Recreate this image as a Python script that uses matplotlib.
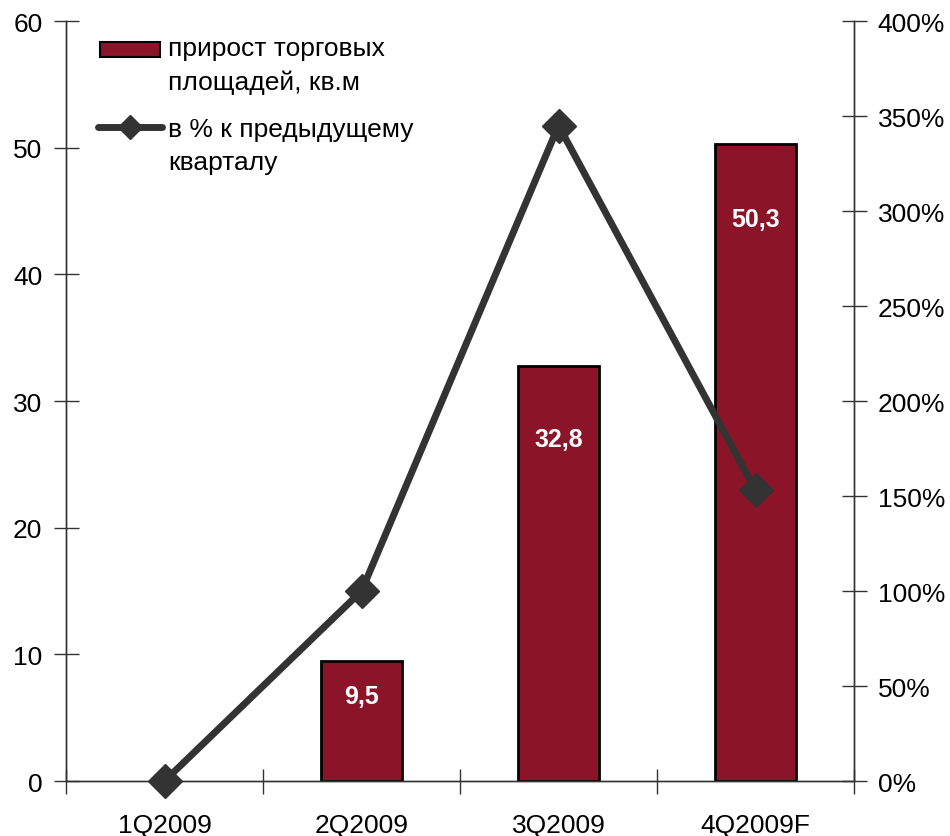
import matplotlib.pyplot as plt
from matplotlib.lines import Line2D
from matplotlib.patches import Rectangle

plt.rcParams['font.family'] = ['Liberation Sans', 'DejaVu Sans']

quarters = ['1Q2009', '2Q2009', '3Q2009', '4Q2009F']
area_growth = [0, 9.5, 32.8, 50.3]          # прирост торговых площадей, кв.м
pct_prev = [0, 100, 345, 153]               # в % к предыдущему кварталу
bar_labels = ['', '9,5', '32,8', '50,3']
label_drop = [0, 2.8, 5.8, 5.9]             # how far below the bar top the label sits

bar_color = '#8b1428'
line_color = '#333333'
axis_color = '#333333'
fs = 19

fig = plt.figure(figsize=(9.5, 8.37), dpi=100)
ax = fig.add_axes([0.0695, 0.0657, 0.8295, 0.908])
ax2 = ax.twinx()

x = list(range(len(quarters)))
for xi, v in zip(x, area_growth):
    if v > 0:
        ax.bar(xi, v, width=0.41, color=bar_color, edgecolor='black', linewidth=2, zorder=2)
for xi, v, lab, d in zip(x, area_growth, bar_labels, label_drop):
    if lab:
        ax.text(xi, v - d, lab, ha='center', va='center', color='white',
                fontsize=18, fontweight='bold', zorder=3)

ax2.plot(x, pct_prev, color=line_color, lw=5, marker='D', markersize=17,
         markerfacecolor=line_color, markeredgecolor=line_color, zorder=4, clip_on=False)

ax.set_xlim(-0.5, 3.5)
ax.set_ylim(0, 60)
ax2.set_ylim(0, 400)
ax.set_yticks(range(0, 61, 10))
ax2.set_yticks(range(0, 401, 50))
ax2.set_yticklabels([f'{v}%' for v in range(0, 401, 50)])

# category boundaries carry the tick marks, names sit between them
ax.set_xticks([i - 0.5 for i in range(len(quarters) + 1)])
ax.set_xticklabels([])
ax.set_xticks(x, minor=True)
ax.set_xticklabels(quarters, minor=True)
ax.tick_params(axis='x', which='major', direction='inout', length=18, width=1, color=axis_color)
ax.tick_params(axis='x', which='minor', length=0, pad=23, labelsize=fs)
ax.tick_params(axis='y', direction='inout', length=18, width=1, color=axis_color,
               labelsize=fs, pad=8)
ax2.tick_params(axis='y', direction='inout', length=18, width=1, color=axis_color,
                labelsize=fs, pad=8)

for a in (ax, ax2):
    a.spines['top'].set_visible(False)
    for s in ('left', 'right', 'bottom'):
        a.spines[s].set_color(axis_color)
        a.spines[s].set_linewidth(1)

# legend, with the key aligned to the first line of each label
tr = ax2.transAxes
ax2.add_patch(Rectangle((0.043, 0.9526), 0.076, 0.0197, transform=tr,
                        facecolor=bar_color, edgecolor='black', lw=1.5, clip_on=False))
ax2.add_line(Line2D([0.040, 0.122], [0.8605, 0.8605], transform=tr, color=line_color,
                    lw=5, solid_capstyle='round', clip_on=False))
ax2.add_line(Line2D([0.081], [0.8605], transform=tr, marker='D', markersize=12,
                    color=line_color, clip_on=False))
ax2.text(0.1294, 0.9421, 'прирост торговых\nплощадей, кв.м', transform=tr,
         fontsize=fs, va='center', ha='left', linespacing=1.45)
ax2.text(0.1294, 0.836, 'в % к предыдущему\nкварталу', transform=tr,
         fontsize=fs, va='center', ha='left', linespacing=1.45)

fig.savefig('out.png', dpi=100)
